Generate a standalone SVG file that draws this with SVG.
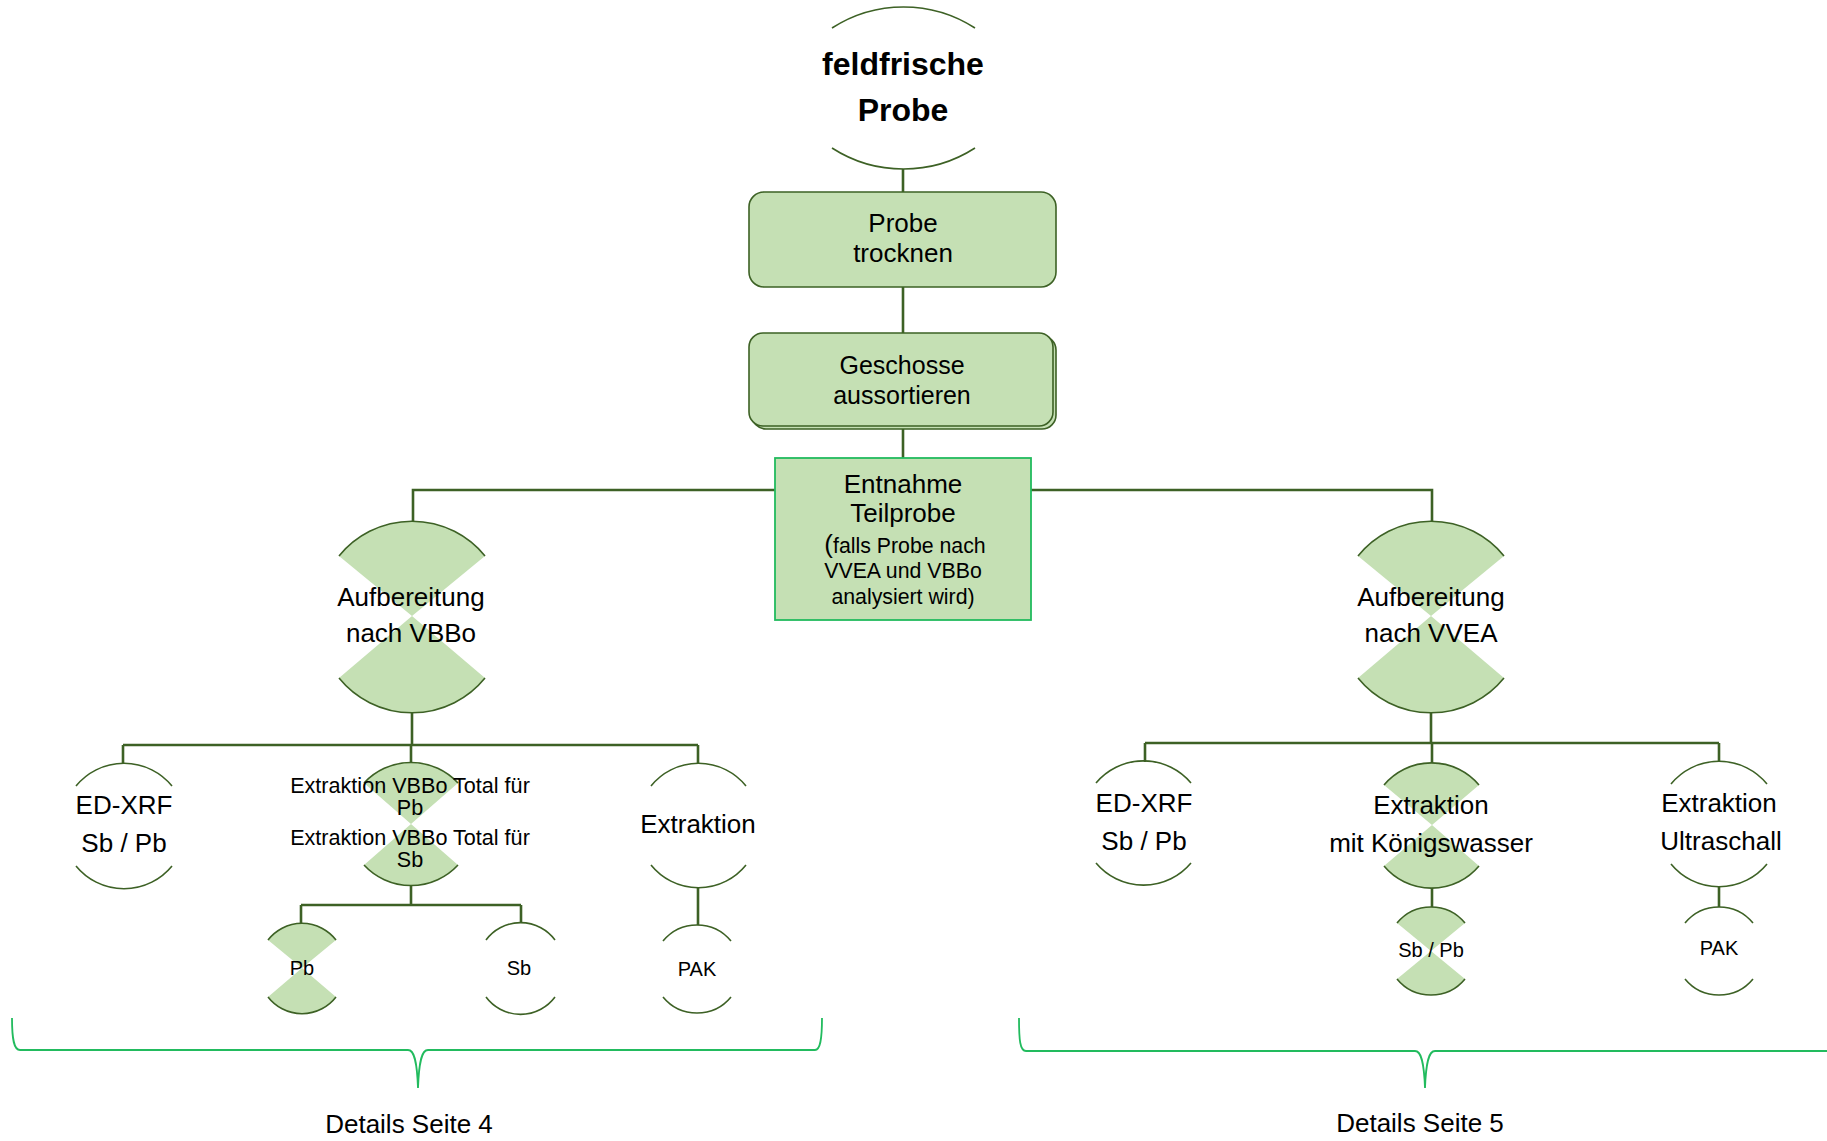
<svg xmlns="http://www.w3.org/2000/svg" width="1827" height="1141" viewBox="0 0 1827 1141">
<style>
text{font-family:"Liberation Sans",Arial,sans-serif;fill:#000;text-anchor:middle}
.t26{font-size:26px}
.t25{font-size:25px}
.t21{font-size:21.6px}
.t20{font-size:20px}
.t21b{font-size:21.3px}
.bold{font-size:32px;font-weight:bold}
.arc{fill:none;stroke:#3d6125;stroke-width:1.6}
.hg{fill:#c5e0b4;stroke:none}
.box{fill:#c5e0b4;stroke:#3d6125;stroke-width:1.6}
.con{fill:none;stroke:#3d6125;stroke-width:2.6}
.brace{fill:none;stroke:#22bb5e;stroke-width:1.8}
</style>
<rect width="1827" height="1141" fill="#fff"/>
<g id="connectors">
<path class="con" d="M903 169V192M903 287V333M903 428V458"/>
<path class="con" d="M775 490H413V522M1031 490H1432V522"/>
<path class="con" d="M412 712V745M123 745H698M123 745V763M411 745V763M698 745V763"/>
<path class="con" d="M411 886V905M301 905H521M301 905V923M521 905V923M698 887V925"/>
<path class="con" d="M1431 712V743M1145 743H1719M1145 743V762M1432 743V763M1719 743V762"/>
<path class="con" d="M1432 887V907M1719 886V907"/>
</g>
<g id="n-feldfrische">
<path class="arc" d="M832 28A132 132 0 0 1 975 28M832 148A132 132 0 0 0 975 148"/>
<text class="bold" x="903" y="75">feldfrische</text>
<text class="bold" x="903" y="121">Probe</text>
</g>
<g id="n-trocknen">
<rect class="box" x="749" y="192" width="307" height="95" rx="15"/>
<text class="t26" x="903" y="232">Probe</text>
<text class="t26" x="903" y="262">trocknen</text>
</g>
<g id="n-geschosse">
<rect class="box" x="752" y="336" width="304" height="93" rx="14"/>
<rect class="box" x="749" y="333" width="304" height="93" rx="14"/>
<text class="t25" x="902" y="374">Geschosse</text>
<text class="t25" x="902" y="404">aussortieren</text>
</g>
<g id="n-entnahme">
<rect x="775" y="458" width="256" height="162" fill="#c5e0b4" stroke="#22bb5e" stroke-width="1.8"/>
<text class="t26" x="903" y="493">Entnahme</text>
<text class="t26" x="903" y="522">Teilprobe</text>
<text class="t21b" x="905" y="553"><tspan font-size="26">(</tspan>falls Probe nach</text>
<text class="t21b" x="903" y="578">VVEA und VBBo</text>
<text class="t21b" x="903" y="604">analysiert wird)</text>
</g>
<g id="n-vbbo">
<path class="hg" d="M339 556A94 94 0 0 1 485 556L412 616L485 678A94 94 0 0 1 339 678L412 616Z"/>
<path class="arc" d="M339 556A94 94 0 0 1 485 556M339 678A94 94 0 0 0 485 678"/>
<text class="t26" x="411" y="606">Aufbereitung</text>
<text class="t26" x="411" y="642">nach VBBo</text>
</g>
<g id="n-vvea">
<path class="hg" d="M1358 556A94 94 0 0 1 1504 556L1431 616L1504 678A94 94 0 0 1 1358 678L1431 616Z"/>
<path class="arc" d="M1358 556A94 94 0 0 1 1504 556M1358 678A94 94 0 0 0 1504 678"/>
<text class="t26" x="1431" y="606">Aufbereitung</text>
<text class="t26" x="1431" y="642">nach VVEA</text>
</g>
<g id="n-edxrf-l">
<path class="arc" d="M76 786A62 62 0 0 1 172 786M76 866A62 62 0 0 0 172 866"/>
<text class="t26" x="124" y="814">ED-XRF</text>
<text class="t26" x="124" y="852">Sb / Pb</text>
</g>
<g id="n-vbbo-total">
<path class="hg" d="M364 783A64 64 0 0 1 458 783L411 824L458 865A64 64 0 0 1 364 865L411 824Z"/>
<path class="arc" d="M364 783A64 64 0 0 1 458 783M364 865A64 64 0 0 0 458 865"/>
<text class="t21" x="410" y="793">Extraktion VBBo Total für</text>
<text class="t21" x="410" y="815">Pb</text>
<text class="t21" x="410" y="845">Extraktion VBBo Total für</text>
<text class="t21" x="410" y="867">Sb</text>
</g>
<g id="n-pb">
<path class="hg" d="M268 940A43 43 0 0 1 336 940L302 968L336 997A43 43 0 0 1 268 997L302 968Z"/>
<path class="arc" d="M268 940A43 43 0 0 1 336 940M268 997A43 43 0 0 0 336 997"/>
<text class="t20" x="302" y="975">Pb</text>
</g>
<g id="n-sb">
<path class="arc" d="M486 940A43 43 0 0 1 555 940M486 997A43 43 0 0 0 555 997"/>
<text class="t20" x="519" y="975">Sb</text>
</g>
<g id="n-extraktion-l">
<path class="arc" d="M651 786A61 61 0 0 1 746 786M651 865A61 61 0 0 0 746 865"/>
<text class="t26" x="698" y="833">Extraktion</text>
</g>
<g id="n-pak-l">
<path class="arc" d="M663 941A44 44 0 0 1 731 941M663 997A44 44 0 0 0 731 997"/>
<text class="t20" x="697" y="976">PAK</text>
</g>
<g id="n-edxrf-r">
<path class="arc" d="M1096 783A62 62 0 0 1 1191 783M1096 863A62 62 0 0 0 1191 863"/>
<text class="t26" x="1144" y="812">ED-XRF</text>
<text class="t26" x="1144" y="850">Sb / Pb</text>
</g>
<g id="n-koenigswasser">
<path class="hg" d="M1384 785A62 62 0 0 1 1479 785L1432 825L1479 866A62 62 0 0 1 1384 866L1432 825Z"/>
<path class="arc" d="M1384 785A62 62 0 0 1 1479 785M1384 866A62 62 0 0 0 1479 866"/>
<text class="t26" x="1431" y="814">Extraktion</text>
<text class="t26" x="1431" y="852">mit Königswasser</text>
</g>
<g id="n-sbpb">
<path class="hg" d="M1397 923A44 44 0 0 1 1465 923L1431 951L1465 979A44 44 0 0 1 1397 979L1431 951Z"/>
<path class="arc" d="M1397 923A44 44 0 0 1 1465 923M1397 979A44 44 0 0 0 1465 979"/>
<text class="t20" x="1431" y="957">Sb / Pb</text>
</g>
<g id="n-ultraschall">
<path class="arc" d="M1671 784A62 62 0 0 1 1767 784M1671 864A62 62 0 0 0 1767 864"/>
<text class="t26" x="1719" y="812">Extraktion</text>
<text class="t26" x="1721" y="850">Ultraschall</text>
</g>
<g id="n-pak-r">
<path class="arc" d="M1685 923A44 44 0 0 1 1753 923M1685 979A44 44 0 0 0 1753 979"/>
<text class="t20" x="1719" y="955">PAK</text>
</g>
<g id="brace-4">
<path class="brace" d="M12 1018C12 1040 14 1050 20 1050L408 1050C414 1050 417 1060 418 1088C419 1060 422 1050 428 1050L815 1050C820 1050 822 1040 822 1018"/>
<text class="t26" x="409" y="1133">Details Seite 4</text>
</g>
<g id="brace-5">
<path class="brace" d="M1019 1018C1019 1040 1020 1051 1026 1051L1415 1051C1421 1051 1424 1061 1425 1088C1426 1061 1429 1051 1435 1051L1830 1051"/>
<text class="t26" x="1420" y="1132">Details Seite 5</text>
</g>
</svg>
